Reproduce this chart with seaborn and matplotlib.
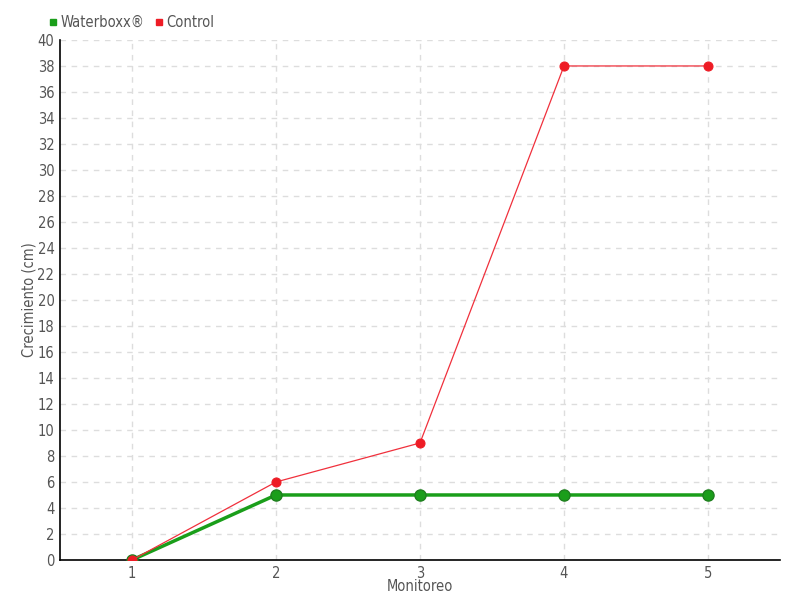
import pandas as pd
import numpy as np
import matplotlib
matplotlib.use('Agg')
import matplotlib.pyplot as plt
import seaborn as sns
from matplotlib.lines import Line2D

# Data
monitoreo = [1, 2, 3, 4, 5]
waterboxx = [0, 5, 5, 5, 5]
control = [0, 6, 9, 38, 38]

df = pd.DataFrame({
    'Monitoreo': monitoreo * 2,
    'Crecimiento': waterboxx + control,
    'Serie': ['Waterboxx®'] * 5 + ['Control'] * 5,
})

sns.set_style('white')
plt.rcParams['font.family'] = ['DejaVu Sans']
plt.rcParams['font.stretch'] = 'condensed'
text_col = '#555555'
green = '#1a9e1a'
red = '#ee1c25'

fig = plt.figure(figsize=(8, 6), dpi=100)
ax = fig.add_axes([0.075, 0.0667, 0.9, 0.8667])

sns.lineplot(data=df[df.Serie == 'Waterboxx®'], x='Monitoreo', y='Crecimiento',
             color=green, linewidth=2.5, marker='o', markersize=8,
             markeredgecolor='#1e7f1e', markeredgewidth=1, ax=ax, zorder=3)
sns.lineplot(data=df[df.Serie == 'Control'], x='Monitoreo', y='Crecimiento',
             color='#f0303c', linewidth=0.9, marker='o', markersize=6.5,
             markerfacecolor=red, markeredgecolor=red, ax=ax, zorder=4)

ax.set_xlim(0.5, 5.5)
ax.set_ylim(0, 40)
ax.set_xticks(monitoreo)
ax.set_yticks(np.arange(0, 41, 2))
ax.grid(True, color='#dddddd', linestyle=(0, (4, 4)), linewidth=1)
for s in ['top', 'right']:
    ax.spines[s].set_visible(False)
for s in ['left', 'bottom']:
    ax.spines[s].set_color('black')
    ax.spines[s].set_linewidth(1.2)
ax.tick_params(axis='both', colors='black', direction='inout', length=6, width=1,
               labelcolor=text_col, labelsize=10.5, pad=1)

ax.set_xlabel('Monitoreo', color=text_col, fontsize=10.5, labelpad=-1)
ax.set_ylabel('Crecimiento (cm)', color=text_col, fontsize=10.5)
ax.yaxis.set_label_coords(-0.032, 0.5)

handles = [Line2D([], [], linestyle='none', marker='s', markersize=5, color=green),
           Line2D([], [], linestyle='none', marker='s', markersize=5, color=red)]
leg = fig.legend(handles, ['Waterboxx®', 'Control'], loc='upper left',
                 bbox_to_anchor=(0.052, 0.985), ncol=2, frameon=False,
                 fontsize=10.5, handletextpad=0.1, columnspacing=0.6,
                 handlelength=0.8, borderaxespad=0)
for t in leg.get_texts():
    t.set_color(text_col)

fig.savefig('out.png', dpi=100)
